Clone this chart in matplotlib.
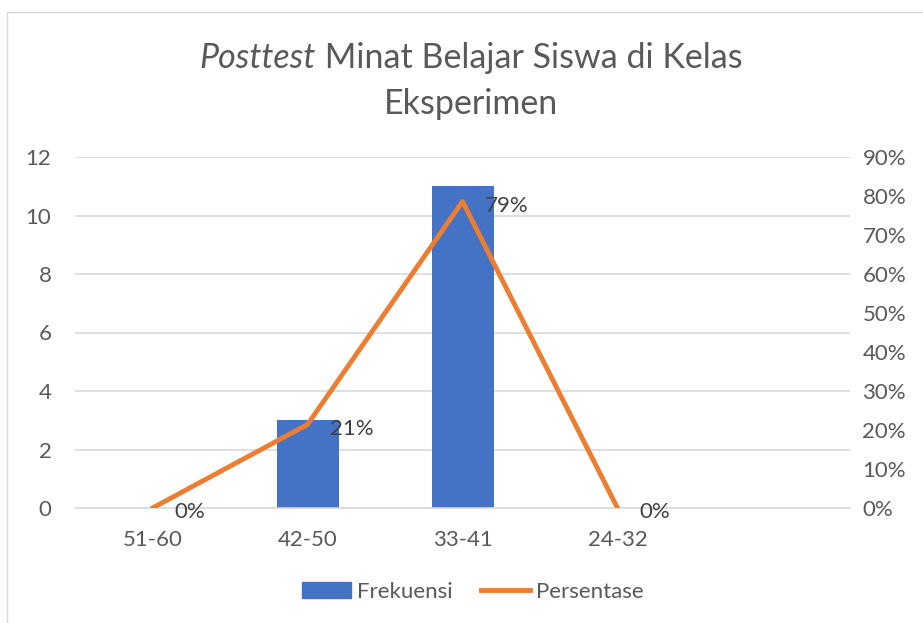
import matplotlib.pyplot as plt
from matplotlib.patches import Rectangle
from matplotlib.lines import Line2D

plt.rcParams["font.family"] = ["Lato", "DejaVu Sans"]

categories = ["51-60", "42-50", "33-41", "24-32", ""]
frekuensi = [0, 3, 11, 0]
persentase = [0.0, 0.214, 0.786, 0.0]
pct_labels = ["0%", "21%", "79%", "0%"]

BLUE = "#4472c4"
ORANGE = "#ed7d31"
GRAY = "#595959"
GRID = "#d9d9d9"
FS = 16

fig = plt.figure(figsize=(9.23, 6.23), dpi=100)
fig.patches.append(Rectangle((0.008, -0.01), 1.2, 0.99, transform=fig.transFigure,
                             fill=False, edgecolor=GRID, linewidth=1.0))

ax = fig.add_axes([75 / 923, 115 / 623, 775 / 923, 351 / 623])
x = list(range(len(categories)))
ax.bar(x[:len(frekuensi)], frekuensi, width=0.4, color=BLUE, zorder=2)
ax.set_xlim(-0.5, len(categories) - 0.5)
ax.set_ylim(0, 12)
ax.set_yticks(range(0, 13, 2))
ax.set_xticks(x)
ax.set_xticklabels(categories)
ax.grid(axis="y", color=GRID, linewidth=1.2, zorder=0)
for s in ["top", "left", "right"]:
    ax.spines[s].set_visible(False)
ax.spines["bottom"].set_color(GRID)
ax.spines["bottom"].set_linewidth(1.2)
ax.tick_params(length=0, labelsize=FS, colors=GRAY)
ax.tick_params(axis="x", pad=16)
ax.tick_params(axis="y", pad=17)

ax2 = ax.twinx()
ax2.plot(x[:len(persentase)], persentase, color=ORANGE, linewidth=3.5,
         solid_capstyle="round", zorder=3)
ax2.set_ylim(0, 0.9)
ax2.set_yticks([i / 10 for i in range(10)])
ax2.set_yticklabels([f"{i * 10}%" for i in range(10)])
for s in ["top", "left", "right", "bottom"]:
    ax2.spines[s].set_visible(False)
ax2.tick_params(length=0, labelsize=FS, colors=GRAY, pad=9)
for xi, yi, lab in zip(x, persentase, pct_labels):
    ax2.annotate(lab, (xi, yi), xytext=(16, -3), textcoords="offset points",
                 ha="left", va="center", fontsize=FS, color="#404040")

# title with italic first word
title_y1 = 1 - 58 / 623
title_y2 = 1 - 104 / 623
t_it = fig.text(0, title_y1, "Posttest", fontsize=24.5, style="italic", color=GRAY,
                ha="left", va="center")
t_rest = fig.text(0, title_y1, " Minat Belajar Siswa di Kelas", fontsize=24.5, color=GRAY,
                  ha="left", va="center")
fig.canvas.draw()
r = fig.canvas.get_renderer()
w1 = t_it.get_window_extent(r).width / fig.bbox.width
w2 = t_rest.get_window_extent(r).width / fig.bbox.width
start = 471 / 923 - (w1 + w2) / 2
t_it.set_x(start)
t_rest.set_x(start + w1)
fig.text(471 / 923, title_y2, "Eksperimen", fontsize=24.5, color=GRAY, ha="center", va="center")

handles = [Rectangle((0, 0), 1, 1, color=BLUE),
           Line2D([0], [0], color=ORANGE, linewidth=3.5)]
fig.legend(handles, ["Frekuensi", "Persentase"], loc="center",
           bbox_to_anchor=(473 / 923, 1 - 592 / 623), ncol=2, frameon=False,
           fontsize=FS, labelcolor=GRAY, handlelength=2.2, handleheight=0.7,
           columnspacing=1.3, handletextpad=0.25)

fig.savefig("out.png", dpi=100)
